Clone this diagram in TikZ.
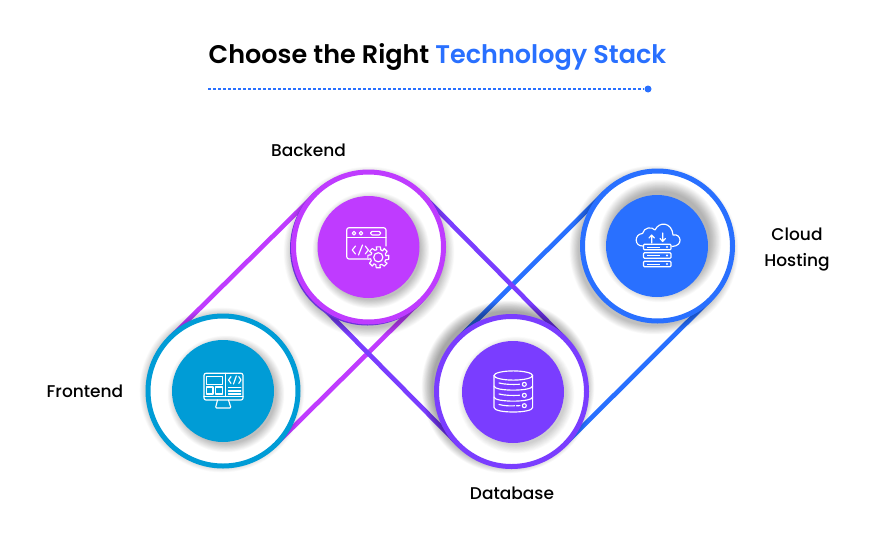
\documentclass[tikz,border=0pt]{standalone}
\usepackage{fontspec}
\setmainfont{Poppins}
\newfontfamily\titlefont{Poppins SemiBold}
\newfontfamily\labelfont{Poppins Medium}
\usetikzlibrary{backgrounds}
\definecolor{cMag}{HTML}{BF3BFF}
\definecolor{cVio}{HTML}{7A3DFF}
\definecolor{cBlu}{HTML}{2970FF}
\definecolor{cCya}{HTML}{009CD6}
\pgfdeclarelayer{belts}
\pgfdeclarelayer{shade}
\pgfsetlayers{belts,shade,main}
\newcommand{\softshadow}[5]{% x,y,r,spread,op
  \foreach \k in {1,...,16}{
    \fill[black,opacity=#5] (#1,#2) circle ({#3+#4*(1-\k/16)});
  }}
\tikzset{
  x=1pt,y=-1pt,
  ringnode/.style={circle,draw=#1,fill=white,line width=5pt,minimum size=150pt,inner sep=0pt,outer sep=0pt},
  discnode/.style={circle,fill=#1,minimum size=102pt,inner sep=0pt,outer sep=0pt},
  belt/.style={line width=4.6pt,draw=#1},
  ico/.style={draw=white,line width=1.15pt,line join=round,line cap=round},
  lbl/.style={font=\labelfont\fontsize{17}{20}\selectfont,text=black,inner sep=0pt},
}
\begin{document}
\begin{tikzpicture}
\useasboundingbox (0,0) rectangle (875,549);
% rings
\node[ringnode=cCya] (fe) at (223,391) {};
\node[ringnode=cMag] (be) at (368.5,247) {};
\node[ringnode=cVio] (db) at (511.5,391.5) {};
\node[ringnode=cBlu] (cl) at (657.5,246) {};
% belts
\begin{pgfonlayer}{belts}
  \fill[white] (0,0) rectangle (875,549);
  \draw[belt=cMag] (fe.135) -- (be.135);
  \draw[belt=cBlu] (db.135) -- (cl.135);
  \draw[belt=cBlu] (db.-45) -- (cl.-45);
  \draw[belt=cMag] (fe.-45) -- (be.-45);
  \draw[belt=cVio] (be.45) -- (db.45);
  \draw[belt=cVio] (be.225) -- (db.225);
\end{pgfonlayer}
% ring shadows
\begin{pgfonlayer}{shade}
  \softshadow{222}{390}{76}{7}{0.012}
  \softshadow{369}{252}{76}{10}{0.016}
  \softshadow{508}{387}{76}{11}{0.022}
  \softshadow{654}{250}{76}{9}{0.015}
  \draw[cVio!85!black,line width=4.6pt] ([shift={(-1.2,1.2)}]be.center) circle (75);
\end{pgfonlayer}
% discs with shadows
\softshadow{226}{394}{50}{9}{0.016}
\node[discnode=cCya] (fed) at (fe.center) {};
\softshadow{371}{250}{50}{9}{0.016}
\node[discnode=cMag] (bed) at (be.center) {};
\softshadow{516}{395}{50}{9}{0.012}
\node[discnode=cVio] (dbd) at (513,392) {};
\softshadow{660}{241}{50}{12}{0.018}
\node[discnode=cBlu] (cld) at (657,246) {};
% Backend icon
\draw[ico,rounded corners=2.3pt] (367,259) -- (346.7,259) -- (346.7,227.7) -- (386,227.7) -- (386,246);
\draw[ico] (346.7,237.5) -- (386,237.5);
\draw[ico] (354,233.2) circle (1.8) (361,233.2) circle (1.8);
\draw[ico,rounded corners=1.5pt] (370.6,231.4) rectangle (380.6,235);
\draw[ico] (355.5,246) -- (352.3,250) -- (355.5,254) (358.5,255) -- (362.5,245) (365.2,246) -- (368.4,250) -- (365.2,254);
\draw[ico,fill=cMag] ({378.3+10.6*cos(-11)},{257.3+10.6*sin(-11)}) \foreach \a in {0,45,...,315}{
   -- ({378.3+10.6*cos(\a-11)},{257.3+10.6*sin(\a-11)}) -- ({378.3+10.6*cos(\a+11)},{257.3+10.6*sin(\a+11)}) -- ({378.3+7.8*cos(\a+19)},{257.3+7.8*sin(\a+19)}) -- ({378.3+7.8*cos(\a+34)},{257.3+7.8*sin(\a+34)})} -- cycle;
\draw[ico] (378.3,257.3) circle (4.6);
% Cloud icon
\draw[ico] (643,246) .. controls (634,246.5) and (634,234) .. (642.5,233.5) .. controls (644,227) and (652,226.5) .. (655,230) .. controls (659,221) and (672,222) .. (673,235) .. controls (681,233) and (684,246) .. (672,246.5);
\draw[ico] (651.7,243) -- (651.7,235) (649,238) -- (651.7,235) -- (654.4,238);
\draw[ico] (662.7,233) -- (662.7,241.5) (660,238.5) -- (662.7,241.5) -- (665.4,238.5);
\foreach \y in {247,255.5,264}{
  \draw[ico,fill=cBlu,rounded corners=1pt] (643.5,{\y-2.8}) rectangle (671,{\y+2.8});
  \draw[white,line width=.9pt] (647,\y) -- (660,\y);
  \fill[white] (667,\y) circle (1.1);
}
% Frontend icon
\draw[ico,rounded corners=2pt] (204,373.3) rectangle (243,400);
\draw[ico] (225.3,373.3) -- (225.3,396.6) (204,396.6) -- (243,396.6);
\draw[ico] (206.6,376.8) rectangle (222.4,384.4);
\draw[ico] (206.6,387) rectangle (213,394) (215.6,387) rectangle (222.4,394);
\draw[ico] (231,376.6) -- (228.6,380) -- (231,383.4) (233.5,384) -- (236.3,376) (238.8,376.6) -- (241,380) -- (238.8,383.4);
\draw[ico] (228.4,387.7) -- (240.8,387.7) (228.4,391) -- (240.8,391) (228.4,394) -- (240.8,394);
\draw[ico,rounded corners=1pt] (217.5,400) -- (215.5,408) -- (231,408) -- (228.5,400);
% Database icon
\draw[ico] (513.3,375.5) ellipse (19.3 and 4.6);
\draw[ico] (494,375.5) -- (494,407.5) .. controls (494,413.5) and (532.6,413.5) .. (532.6,407.5) -- (532.6,375.5);
\draw[ico] (494,386) .. controls (494,391.5) and (532.6,391.5) .. (532.6,386);
\draw[ico] (494,397) .. controls (494,402.5) and (532.6,402.5) .. (532.6,397);
\foreach \y in {384.3,395.3,405.7}{
  \draw[ico] (524.3,\y) circle (2);
}
\draw[ico] (499,383) .. controls (505,384.5) and (512,384.6) .. (519.5,384.3);
\draw[ico] (499,394) .. controls (505,395.5) and (512,395.6) .. (519.5,395.3);
\draw[ico] (499,404.5) .. controls (505,406) and (510,406) .. (514.5,405.8) (516.5,405.8) -- (520,405.6);
% labels
\node[lbl] (lbe) at (308.5,150) {Backend};
\node[lbl] (lfe) at (85,391) {Frontend};
\node[lbl] (ldb) at (512,493) {Database};
\node[lbl,align=center] (lcl) at (797,249.5) {Cloud\\[6pt]Hosting};
% title
\node[font=\titlefont\fontsize{25.5}{30}\selectfont,inner sep=0pt,anchor=base] (ttl) at (437.5,63) {Choose the Right \textcolor{cBlu}{Technology Stack}};
\coordinate (rs) at (208,89);
\node[circle,fill=cBlu,minimum size=7pt,inner sep=0pt] (rd) at (648,89) {};
\draw[cBlu,line width=1.1pt,dash pattern=on 2.6pt off 2.4pt] (rs) -- (rd);
\end{tikzpicture}
\end{document}
